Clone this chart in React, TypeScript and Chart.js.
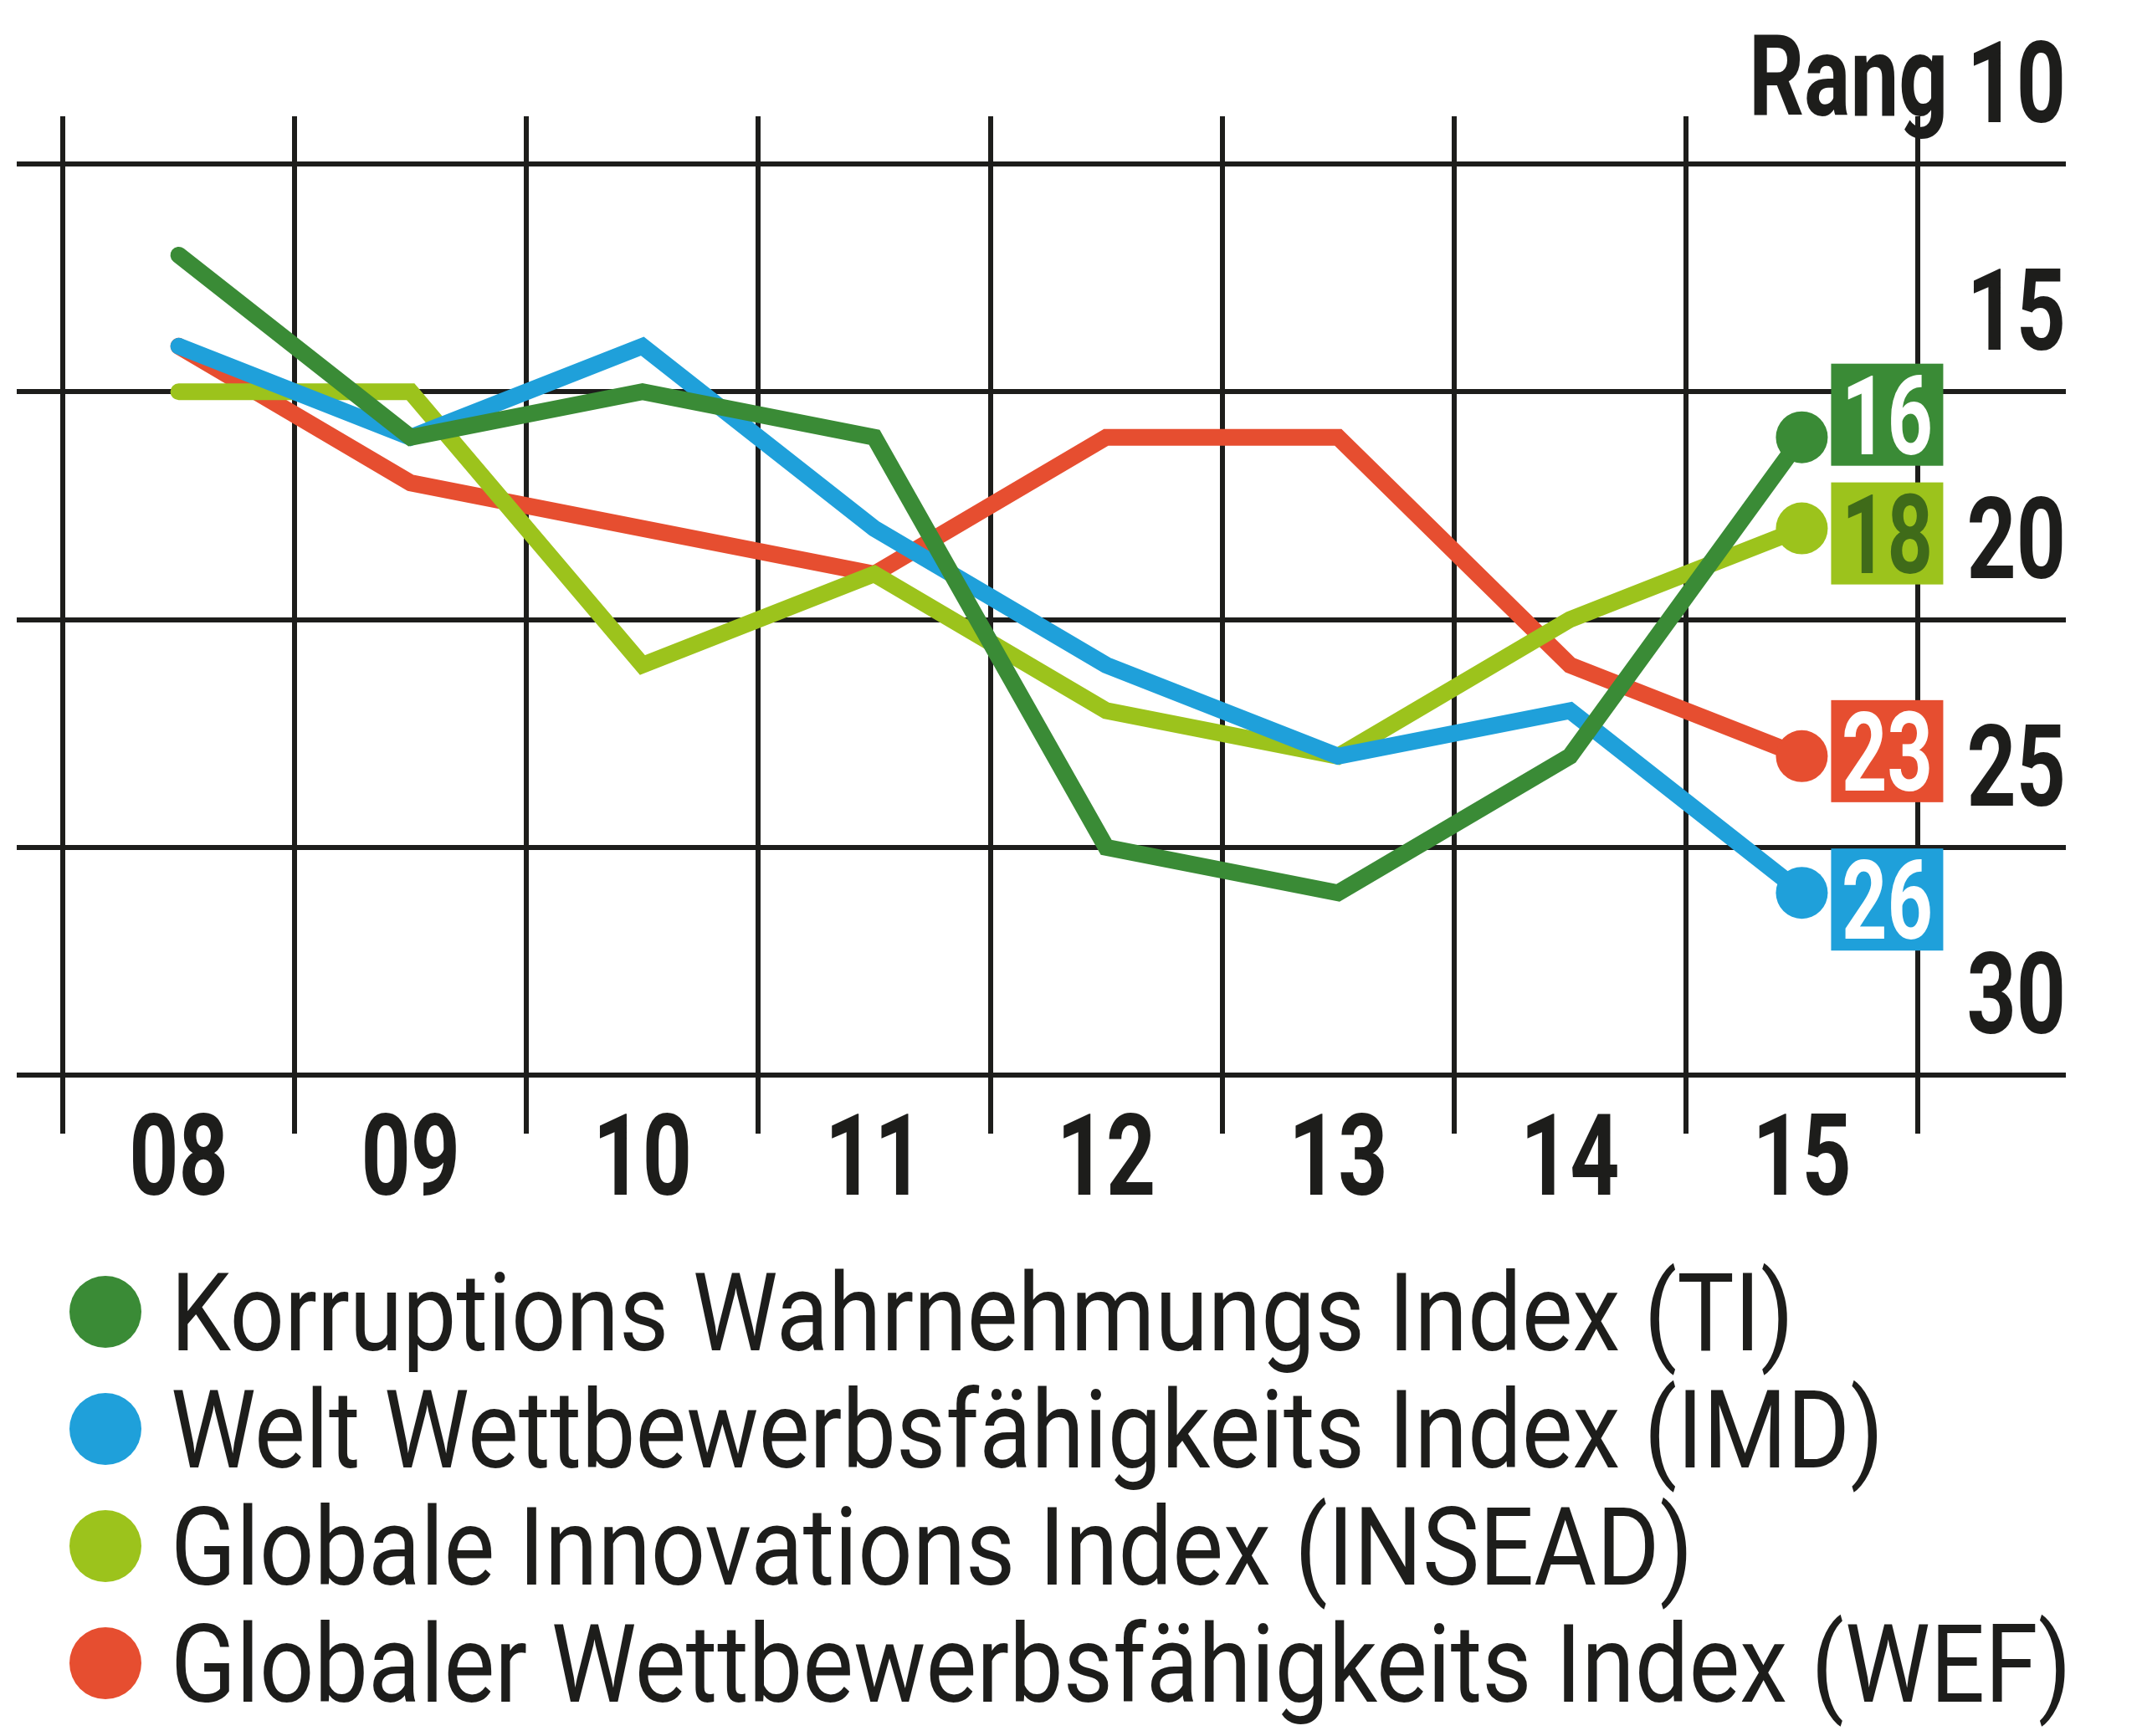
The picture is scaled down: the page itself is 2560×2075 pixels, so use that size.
import { useEffect, useRef } from 'react';
import { Chart, registerables } from 'chart.js';

Chart.register(...registerables);

// ---- data ----
const years = ['08', '09', '10', '11', '12', '13', '14', '15'];
const seriesNames = [
  'Korruptions Wahrnehmungs Index (TI)',
  'Welt Wettbewerbsfähigkeits Index (IMD)',
  'Globale Innovations Index (INSEAD)',
  'Globaler Wettbewerbsfähigkeits Index (WEF)',
];
const tiRanks = [12, 16, 15, 16, 25, 26, 23, 16];
const imdRanks = [14, 16, 14, 18, 21, 23, 22, 26];
const inseadRanks = [15, 15, 21, 19, 22, 23, 20, 18];
const wefRanks = [14, 17, 18, 19, 16, 16, 21, 23];
const rankMin = 10;
const rankMax = 30;
const rankStep = 5;
const rankAxisWord = 'Rang';

// ---- styles ----
const seriesColors = ['#3a8b36', '#1fa0da', '#9cc31c', '#e64e30'];
const labelTextColors = ['#ffffff', '#ffffff', '#3f6b19', '#ffffff'];
const labelNudge = [-27, 8, 6, -6];
const INK = '#1d1d1b';
const FONT = 'Roboto, "Liberation Sans", sans-serif';
const TICK_SQUEEZE = 0.76;
const BOX_SQUEEZE = 0.72;
const LEGEND_SQUEEZE = 0.89;

function squeezedText(ctx: CanvasRenderingContext2D, text: string, x: number, y: number, align: CanvasTextAlign, sx: number) {
  ctx.save();
  ctx.translate(x, y);
  ctx.scale(sx, 1);
  ctx.textAlign = align;
  ctx.textBaseline = 'alphabetic';
  ctx.fillText(text, 0, 0);
  ctx.restore();
}

const axisLabelPlugin = {
  id: 'axisLabels',
  afterDraw(chart: any) {
    const ctx: CanvasRenderingContext2D = chart.ctx;
    const xs = chart.scales.x;
    const ys = chart.scales.y;
    ctx.save();
    ctx.fillStyle = INK;
    ctx.font = `bold 136px ${FONT}`;
    // x labels, centred on each category
    xs.ticks.forEach((_: any, i: number) => {
      const px = xs.getPixelForTick(i);
      squeezedText(ctx, String(xs.getLabelForValue(i)), px, xs.top + 143, 'center', TICK_SQUEEZE);
    });
    // y labels, set above each gridline, right aligned
    ys.ticks.forEach((t: any) => {
      const py = ys.getPixelForValue(t.value) - 50;
      const txt = String(t.value);
      squeezedText(ctx, txt, ys.right, py, 'right', TICK_SQUEEZE);
      if (t.value === rankMin) {
        const w = ctx.measureText(txt).width * TICK_SQUEEZE;
        squeezedText(ctx, rankAxisWord, ys.right - w - 22, py - 8, 'right', TICK_SQUEEZE);
      }
    });
    ctx.restore();
  },
};

const endLabelPlugin = {
  id: 'endLabels',
  afterDatasetsDraw(chart: any) {
    const ctx: CanvasRenderingContext2D = chart.ctx;
    chart.data.datasets.forEach((ds: any, i: number) => {
      const meta = chart.getDatasetMeta(i);
      const n = ds.data.length;
      const pt = meta.data[n - 1];
      if (!pt) return;
      const boxW = 134;
      const boxH = 122;
      const left = pt.x + 35;
      const cy = pt.y + labelNudge[i];
      ctx.save();
      ctx.fillStyle = ds.borderColor;
      ctx.fillRect(left, cy - boxH / 2, boxW, boxH);
      ctx.fillStyle = labelTextColors[i];
      ctx.font = `bold 132px ${FONT}`;
      squeezedText(ctx, String(ds.data[n - 1]), left + boxW / 2, cy + 47, 'center', BOX_SQUEEZE);
      ctx.restore();
    });
  },
};

const rowLegendPlugin = {
  id: 'rowLegend',
  afterDraw(chart: any) {
    const ctx: CanvasRenderingContext2D = chart.ctx;
    const xScale = chart.scales.x;
    const left = chart.chartArea.left;
    chart.data.datasets.forEach((ds: any, i: number) => {
      const cy = xScale.bottom + 133 + i * 140;
      ctx.save();
      ctx.beginPath();
      ctx.arc(left + 51, cy, 43, 0, Math.PI * 2);
      ctx.fillStyle = ds.borderColor;
      ctx.fill();
      ctx.font = `129px ${FONT}`;
      ctx.fillStyle = INK;
      squeezedText(ctx, ds.label, left + 129, cy + 46, 'left', LEGEND_SQUEEZE);
      ctx.restore();
    });
  },
};

export default function App() {
  const ref = useRef<HTMLCanvasElement | null>(null);

  useEffect(() => {
    if (!ref.current) return;
    const allSeries = [tiRanks, imdRanks, inseadRanks, wefRanks];
    const datasets = allSeries.map((values, i) => ({
      label: seriesNames[i],
      data: values,
      borderColor: seriesColors[i],
      backgroundColor: seriesColors[i],
      borderWidth: 20,
      borderJoinStyle: 'miter' as const,
      borderCapStyle: 'round' as const,
      tension: 0,
      fill: false,
      pointRadius: values.map((_, j) => (j === values.length - 1 ? 31 : 0)),
      pointBackgroundColor: seriesColors[i],
      pointBorderWidth: 0,
      pointHoverRadius: 0,
      xAxisID: 'x',
      yAxisID: 'y',
    }));

    const gridStyle = { color: INK, lineWidth: 6 };

    const chart = new Chart(ref.current, {
      type: 'line',
      data: { labels: years, datasets },
      plugins: [endLabelPlugin, axisLabelPlugin, rowLegendPlugin],
      options: {
        animation: false,
        responsive: false,
        devicePixelRatio: 1,
        events: [],
        layout: { padding: { left: 20, right: 91, top: 139, bottom: 640 } },
        plugins: { legend: { display: false }, tooltip: { enabled: false } },
        scales: {
          x: {
            type: 'category',
            position: 'bottom',
            offset: true,
            grid: { ...gridStyle, offset: true, drawOnChartArea: true, drawTicks: true, tickLength: 70 },
            border: { display: false },
            ticks: { display: false, autoSkip: false },
            afterFit: (s: any) => { s.height = 150; },
          },
          xTop: {
            type: 'category',
            position: 'top',
            offset: true,
            grid: { ...gridStyle, offset: true, drawOnChartArea: false, drawTicks: true, tickLength: 57 },
            border: { display: false },
            ticks: { display: false, autoSkip: false },
            afterFit: (s: any) => { s.height = 57; },
          },
          y: {
            type: 'linear',
            position: 'right',
            min: rankMin,
            max: rankMax,
            reverse: true,
            grid: { ...gridStyle, drawOnChartArea: true, drawTicks: true, tickLength: 177 },
            border: { display: false },
            ticks: { display: false, stepSize: rankStep },
            afterFit: (s: any) => { s.width = 177; },
          },
          yLeft: {
            type: 'linear',
            position: 'left',
            min: rankMin,
            max: rankMax,
            reverse: true,
            grid: { ...gridStyle, drawOnChartArea: false, drawTicks: true, tickLength: 55 },
            border: { display: false },
            ticks: { display: false, stepSize: rankStep },
            afterFit: (s: any) => { s.width = 55; },
          },
        },
      } as any,
    });
    return () => chart.destroy();
  }, []);

  return (
    <div style={{ position: 'absolute', left: 0, top: 0, width: 2560, height: 2075, background: '#fff' }}>
      <canvas ref={ref} width={2560} height={2075} style={{ display: 'block' }} />
    </div>
  );
}
